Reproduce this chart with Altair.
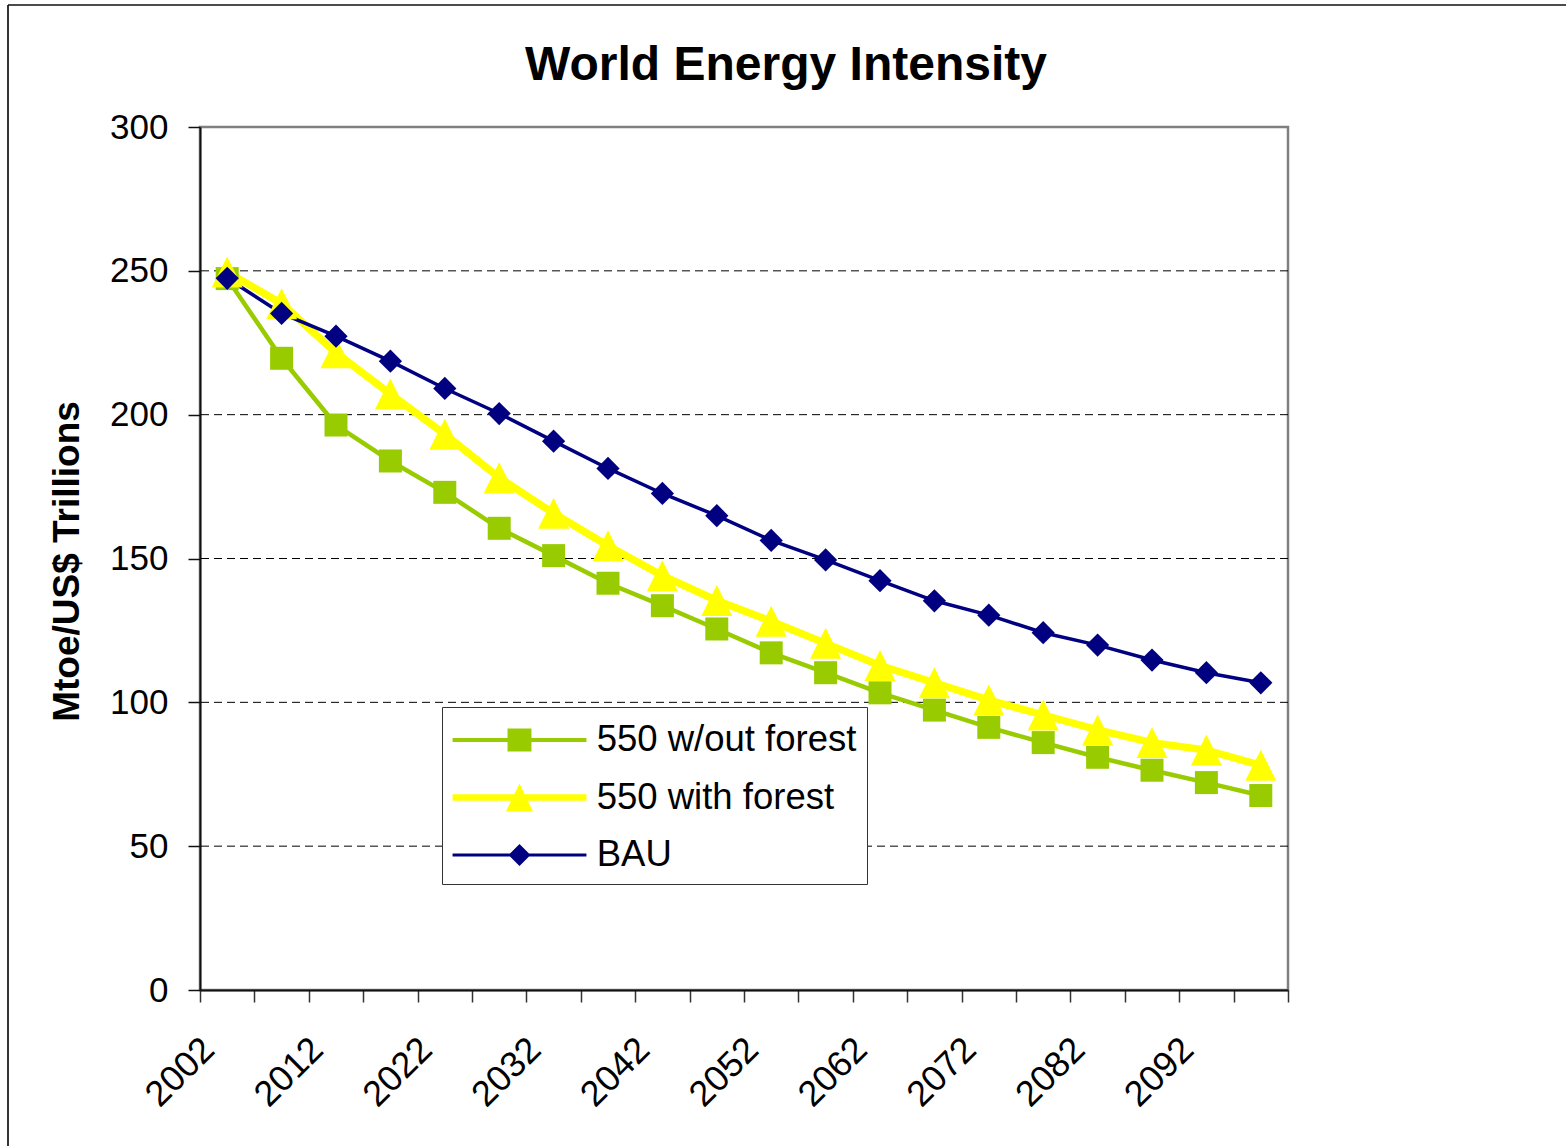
import altair as alt
import pandas as pd

# Projection years (every 5 years)
years = [2002, 2007, 2012, 2017, 2022, 2027, 2032, 2037, 2042, 2047,
         2052, 2057, 2062, 2067, 2072, 2077, 2082, 2087, 2092, 2097]

# Energy intensity, Mtoe per US$ trillion
no_forest = [247.3, 219.6, 196.4, 183.9, 173.0, 160.5, 151.0, 141.4, 133.6, 125.5,
             117.2, 110.3, 103.3, 97.3, 91.3, 86.0, 80.9, 76.4, 72.1, 67.6]
with_forest = [249.6, 238.6, 221.5, 207.2, 193.2, 178.1, 165.7, 154.4, 144.0, 135.4,
               128.2, 120.5, 112.8, 106.8, 100.8, 95.6, 90.4, 86.0, 83.4, 78.1]
bau = [247.4, 235.2, 227.3, 218.6, 209.1, 200.4, 190.8, 181.3, 172.6, 164.9,
       156.3, 149.5, 142.3, 135.3, 130.3, 124.2, 119.9, 114.7, 110.3, 106.8]

series_names = ["550 w/out forest", "550 with forest", "BAU"]
series_values = [no_forest, with_forest, bau]

y_ticks = [0, 50, 100, 150, 200, 250, 300]
gridlines = [50, 100, 150, 200, 250]

# Styling per series
series_colors = ["#99CC00", "#FFFF00", "#000080"]
line_widths = [4.5, 7.5, 3.5]
marker_shapes = ["M-1,-1H1V1H-1Z", "M0,-1L1,1H-1Z", "M0,-1L1,0L0,1L-1,0Z"]
marker_sizes = [529, 961, 540]
# Legend keys: a line segment with the series marker on top
legend_keys = [
    "M-2.91,-0.087H2.91V0.087H-2.91Z M-0.52,-0.5H0.52V0.5H-0.52Z",
    "M-2.91,-0.14H2.91V0.14H-2.91Z M0,-0.609L0.587,0.609H-0.587Z",
    "M-2.91,-0.065H2.91V0.065H-2.91Z M0,-0.478L0.478,0L0,0.478L-0.478,0Z",
]

FONT = "Liberation Sans"

rows = []
for name, vals in zip(series_names, series_values):
    for yr, v in zip(years, vals):
        rows.append({"year": yr, "series": name, "value": v})
df = pd.DataFrame(rows)

x_enc = alt.X(
    "year:O",
    scale=alt.Scale(type="band", paddingInner=0, paddingOuter=0),
    axis=alt.Axis(
        title=None,
        labelExpr="(datum.value - 2002) % 10 == 0 ? datum.label : ''",
        labelAngle=315,
        labelAlign="right",
        labelBaseline="middle",
        labelFont=FONT,
        labelFontSize=36,
        labelColor="black",
        labelOffset=-19,
        labelPadding=41.5,
        labelOverlap=False,
        labelFlush=False,
        tickBand="extent",
        tickSize=12,
        tickColor="#333333",
        tickWidth=1.5,
        domainColor="#111111",
        domainWidth=2,
        grid=False,
    ),
)

y_scale = alt.Scale(domain=[0, 300], nice=False)
y_axis = alt.Axis(
    values=y_ticks,
    title="Mtoe/US$ Trillions",
    titleFont=FONT,
    titleFontSize=37,
    titleFontWeight="bold",
    titleColor="black",
    titleAngle=270,
    titleX=-122,
    titleY=434,
    titleAlign="center",
    titleBaseline="alphabetic",
    labelFont=FONT,
    labelFontSize=35,
    labelColor="black",
    labelPadding=20,
    tickSize=12,
    tickColor="#111111",
    tickWidth=1.5,
    domainColor="#111111",
    domainWidth=2,
    grid=False,
)
y_enc = alt.Y("value:Q", scale=y_scale, axis=y_axis)

color_scale = alt.Scale(domain=series_names, range=series_colors)

key_legend = alt.Legend(
    title=None,
    orient="none",
    legendX=242,
    legendY=580,
    direction="vertical",
    labelFont=FONT,
    labelFontSize=36.5,
    labelColor="black",
    labelLimit=0,
    labelOffset=54.2,
    symbolOffset=44.5,
    symbolSize=2116,
    symbolStrokeWidth=0,
    symbolOpacity=1,
    padding=10,
    rowPadding=15.5,
    strokeColor="#333333",
    fillColor="white",
)

grid = alt.Chart(pd.DataFrame({"value": gridlines})).mark_rule(
    color="black", strokeWidth=1, strokeDash=[8, 5]
).encode(y=y_enc)

lines = alt.Chart(df).mark_line().encode(
    x=x_enc,
    y=y_enc,
    color=alt.Color("series:N", scale=color_scale, legend=None),
    strokeWidth=alt.StrokeWidth(
        "series:N",
        scale=alt.Scale(type="ordinal", domain=series_names, range=line_widths),
        legend=None,
    ),
)

points = alt.Chart(df).mark_point(filled=True, opacity=1, strokeWidth=0).encode(
    x=x_enc,
    y=y_enc,
    color=alt.Color("series:N", scale=color_scale, legend=None),
    shape=alt.Shape(
        "series:N", scale=alt.Scale(domain=series_names, range=marker_shapes), legend=None
    ),
    size=alt.Size(
        "series:N",
        scale=alt.Scale(type="ordinal", domain=series_names, range=marker_sizes),
        legend=None,
    ),
)

# Layer that only feeds the legend (line + marker keys)
legend_layer = alt.Chart(df).transform_filter("false").mark_point(
    filled=True, opacity=1, strokeWidth=0
).encode(
    x=x_enc,
    y=y_enc,
    color=alt.Color("series:N", scale=color_scale, legend=key_legend),
    shape=alt.Shape(
        "series:N", scale=alt.Scale(domain=series_names, range=legend_keys), legend=key_legend
    ),
)

# Chart-area frame (top and left edges)
frame_src = pd.DataFrame({"edge": [0]})
frame_top = alt.Chart(frame_src).mark_rule(color="#111111", strokeWidth=1.7).encode(
    x=alt.value(-192), x2=alt.value(1370), y=alt.value(-122)
)
frame_left = alt.Chart(frame_src).mark_rule(color="#111111", strokeWidth=1.7).encode(
    x=alt.value(-192), y=alt.value(-122), y2=alt.value(1030)
)

chart = (
    alt.layer(grid, lines, points, legend_layer, frame_top, frame_left)
    .resolve_scale(color="independent", shape="independent")
    .properties(
        width=1088,
        height=863,
        padding={"left": 200, "top": 127, "right": 278, "bottom": 156},
        autosize=alt.AutoSizeParams(type="none"),
        title=alt.TitleParams(
            "World Energy Intensity",
            font=FONT,
            fontSize=48,
            fontWeight="bold",
            color="black",
            anchor="middle",
            frame="group",
            baseline="alphabetic",
            dx=42,
            offset=-124.2,
        ),
    )
    .configure(background="white", font=FONT)
    .configure_view(stroke="#808080", strokeWidth=2.5)
)

chart.save("out.html", embed_options={"renderer": "svg", "actions": False})
